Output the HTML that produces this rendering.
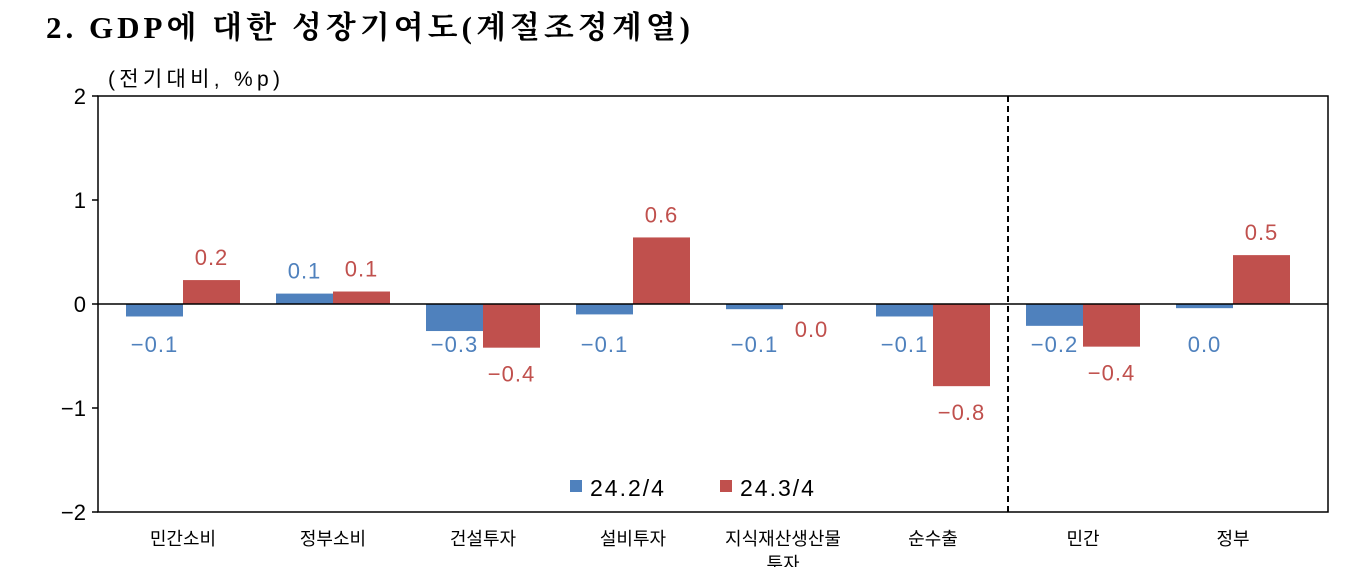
<!DOCTYPE html>
<html><head><meta charset="utf-8"><style>
body{margin:0;background:#fff;}
svg text{font-family:"Liberation Sans","Noto Sans CJK KR",sans-serif;}
</style></head><body>
<svg width="1348" height="567" viewBox="0 0 1348 567" xmlns="http://www.w3.org/2000/svg">
<text x="46" y="38" font-size="31" font-weight="bold" textLength="644" lengthAdjust="spacing" style="font-family:'Liberation Serif','Noto Serif CJK SC',serif" fill="#000">2. GDP에 대한 성장기여도(계절조정계열)</text>
<text x="108" y="86" font-size="21" textLength="172" lengthAdjust="spacing" fill="#000">(전기대비, %p)</text>
<g id="plot"></g>
</svg>
<script>
const categories=["민간소비","정부소비","건설투자","설비투자","지식재산생산물","순수출","민간","정부"];
const series1=[-0.12,0.10,-0.26,-0.10,-0.05,-0.12,-0.21,-0.04];
const series2=[0.23,0.12,-0.42,0.64,0.0,-0.79,-0.41,0.47];
const labels1=["−0.1","0.1","−0.3","−0.1","−0.1","−0.1","−0.2","0.0"];
const labels2=["0.2","0.1","−0.4","0.6","0.0","−0.8","−0.4","0.5"];
const yTicks=[2,1,0,-1,-2];
const yTickLabels=["2","1","0","−1","−2"];
const NS="http://www.w3.org/2000/svg";
const g=document.getElementById('plot');
const L=98,R=1328,T=96,B=512;
const y=v=>304-v*104;
const xc=i=>183+i*150;
const bw=57;
function mk(tag,attrs,parent){const e=document.createElementNS(NS,tag);for(const k in attrs)e.setAttribute(k,attrs[k]);(parent||g).appendChild(e);return e;}
const frame=mk('rect',{x:L,y:T,width:R-L,height:B-T,fill:'none',stroke:'#000','stroke-width':1.5});


yTicks.forEach((t,i)=>{
 const tk=mk('line',{x1:L-6,x2:L,y1:y(t),y2:y(t),stroke:'#000','stroke-width':1.5});
 
 
 const tx=mk('text',{x:L-12,y:y(t)+8,'text-anchor':'end','font-size':22,fill:'#000'});
 tx.textContent=yTickLabels[i];
 
 
});
categories.forEach((c,i)=>{
 const v1=series1[i],v2=series2[i];
 const b1=mk('rect',{x:xc(i)-bw,y:Math.min(y(v1),y(0)),width:bw,height:Math.abs(y(v1)-y(0)),fill:'#4f81bd'});
 
 
 const b2=mk('rect',{x:xc(i),y:Math.min(y(v2),y(0)),width:bw,height:Math.abs(y(v2)-y(0)),fill:'#c0504d'});
 
 
 const l1=mk('text',{x:xc(i)-bw/2,y:v1>=0?y(v1)-15:y(0)+48,'text-anchor':'middle','font-size':22,'letter-spacing':1,fill:'#4f81bd'});
 l1.textContent=labels1[i];
 
 
 const l2=mk('text',{x:xc(i)+bw/2,y:v2>0?y(v2)-15:(v2===0?y(0)+33:y(v2)+34),'text-anchor':'middle','font-size':22,'letter-spacing':1,fill:'#c0504d'});
 l2.textContent=labels2[i];
 
 
 const cl=mk('text',{x:xc(i),y:545,'text-anchor':'middle','font-size':18,fill:'#000'});
 cl.textContent=c;
 
 
 if(c==="지식재산생산물"){const c2=mk('text',{x:xc(i),y:570,'text-anchor':'middle','font-size':18,fill:'#000'});c2.textContent="투자";
 
 }
});
const zl=mk('line',{x1:L,x2:R,y1:y(0),y2:y(0),stroke:'#000','stroke-width':1.5});


const dl=mk('line',{x1:1008,x2:1008,y1:T,y2:B,stroke:'#000','stroke-width':2,'stroke-dasharray':'6,4'});


const lg=[["24.2/4","#4f81bd",570],["24.3/4","#c0504d",720]];
lg.forEach(e=>{
 const s=mk('rect',{x:e[2],y:480,width:12,height:12,fill:e[1]});
 
 
 const t=mk('text',{x:e[2]+20,y:496,'font-size':23,'letter-spacing':2,fill:'#000'});
 t.textContent=e[0];
 
 
});
</script>
</body></html>
